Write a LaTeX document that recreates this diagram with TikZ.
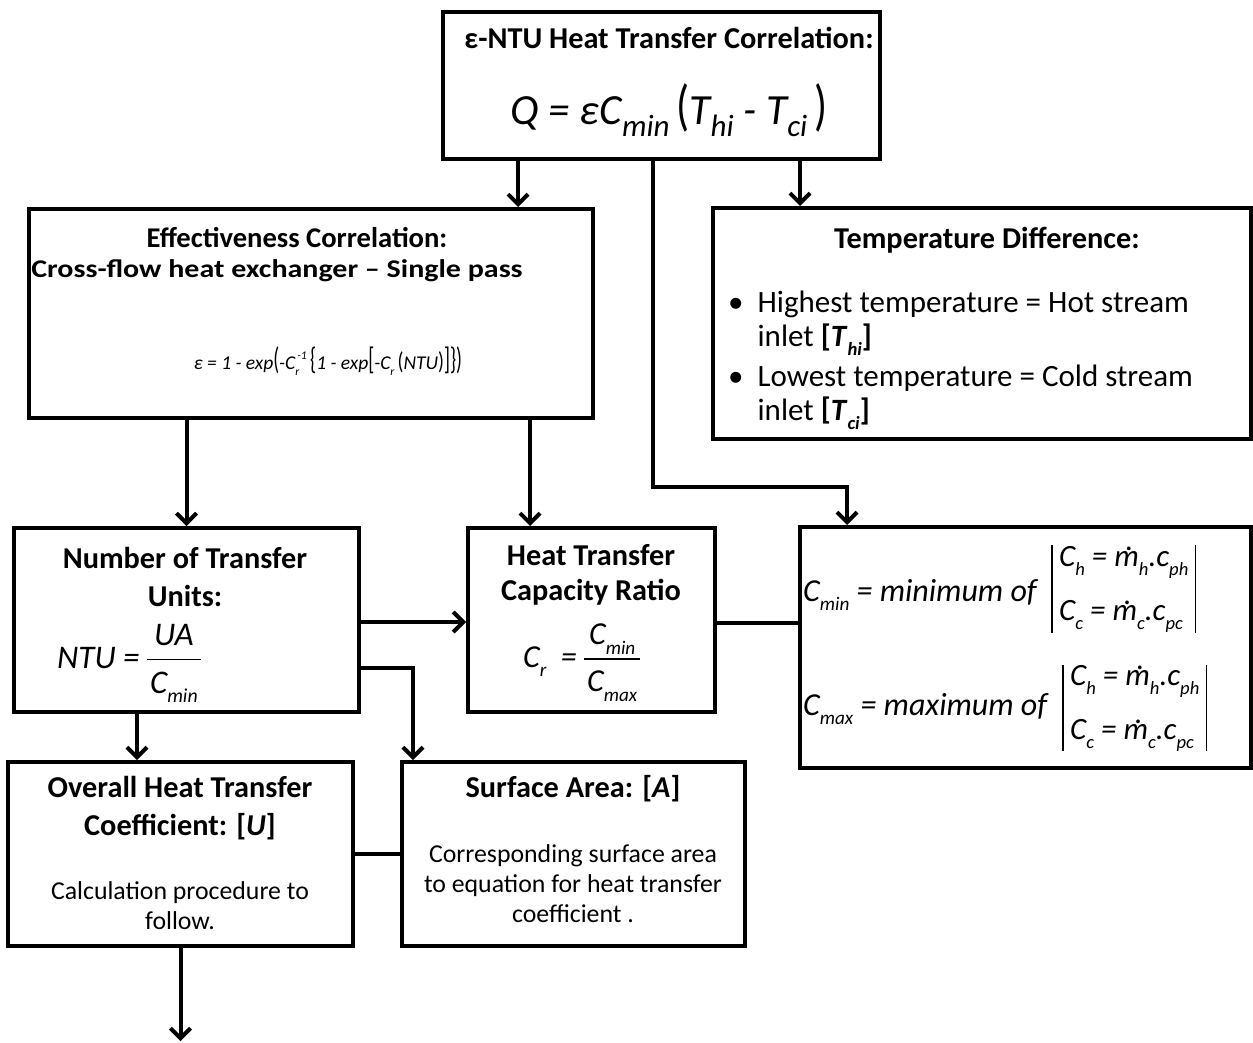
\documentclass[tikz,border=0pt]{standalone}
\usepackage{fontspec}
\setmainfont{Carlito}
\usepackage{graphicx}
\usetikzlibrary{arrows.meta}

% lowered / raised indices built from the current text font
\newcommand\Sb[1]{\raisebox{-0.6ex}{\scalebox{0.6}{#1}}}
\newcommand\Sbl[1]{\raisebox{-0.55ex}{\scalebox{0.72}{#1}}}
\newcommand\Sp[1]{\raisebox{1.05ex}{\scalebox{0.6}{#1}}}
% mass flow rate: m with a dot above
\newcommand\mdot{\rlap{\kern0.36em\raisebox{0.5em}{.}}m}
% stacked fraction
\setlength\arrayrulewidth{1.5pt}
\newcommand\fracbox[2]{\begin{tabular}{@{\hspace{3pt}}c@{\hspace{3pt}}}#1\\[2pt]\hline\rule{0pt}{1.0em}#2\end{tabular}}
% tall delimiters
\newcommand\tall[2]{\textup{\scalebox{1}[#1]{#2}}}

\begin{document}
\begin{tikzpicture}[x=1pt,y=-1pt,
  box/.style={draw, line width=4pt, inner sep=0pt},
  arr/.style={line width=4pt, -{Straight Barb[length=10pt,width=20pt]}},
  link/.style={line width=4pt},
  bar/.style={line width=1.2pt},
  txt/.style={inner sep=0pt, align=center},
  head/.style={txt, font=\fontsize{30.3}{38}\selectfont\bfseries},
  body/.style={txt, font=\fontsize{25.8}{30}\selectfont},
  eqn/.style={inner sep=0pt, font=\fontsize{32}{38}\selectfont\itshape},
  barblk/.style={inner ysep=0pt, inner xsep=7pt, align=left, font=\fontsize{31}{54}\selectfont\itshape}]

\useasboundingbox[fill=white] (0,0) rectangle (1253,1043);

% boxes
\node[box, minimum width=437pt, minimum height=147pt] (top)  at (661.5,85.5) {};
\node[box, minimum width=564pt, minimum height=209pt] (eff)  at (311,313.5) {};
\node[box, minimum width=538pt, minimum height=231pt] (temp) at (982,323.5) {};
\node[box, minimum width=345pt, minimum height=184pt] (ntu)  at (186.5,620) {};
\node[box, minimum width=247pt, minimum height=184pt] (htcr) at (591.5,620) {};
\node[box, minimum width=451pt, minimum height=241pt] (cmin) at (1025.5,647.5) {};
\node[box, minimum width=345pt, minimum height=184pt] (ov)   at (180.5,854) {};
\node[box, minimum width=343pt, minimum height=184pt] (surf) at (573.5,854) {};

% e-NTU correlation
\node[head] (topT) at (669,38) {ε-NTU Heat Transfer Correlation:};
\node[eqn, font=\fontsize{43}{50}\selectfont\itshape] (topE) at (669,110)
  {Q = εC\Sbl{min}\,\tall{1.3}{(}T\Sbl{hi} - T\Sbl{ci}\,\tall{1.3}{)}};

% effectiveness
\node[head, font=\fontsize{28.6}{34}\selectfont\bfseries] (effT) at (297,238) {Effectiveness Correlation:};
\node[txt, font=\fontsize{30}{34}\selectfont\bfseries] (effS) at (277,271)
  {\scalebox{1}[0.85]{Cross-flow heat exchanger -- Single pass}};
\node[eqn, font=\fontsize{19.5}{24}\selectfont\itshape] (effE) at (328,361)
  {ε = 1 - exp\tall{1.6}{(}-C\rlap{\Sb{r}}\Sp{\,-1}\,\tall{1.6}{\{}1 - exp\tall{1.6}{[}-C\Sb{r}\,\tall{1.25}{(}NTU\tall{1.25}{)}\tall{1.6}{]}\tall{1.6}{\}}\tall{1.6}{)}};

% temperature difference
\node[head] (tempT) at (987,240) {Temperature Difference:};
\node[anchor=base west, inner sep=0pt, font=\fontsize{31}{34}\selectfont] (tempL) at (728,312)
  {\begin{tabular}[t]{@{}l@{\hspace{14pt}}l@{}}
   • & Highest temperature = Hot stream\\
     & inlet \textbf{[\textit{T}\Sb{\textit{hi}}]}\\[6pt]
   • & Lowest temperature = Cold stream\\
     & inlet \textbf{[\textit{T}\Sb{\textit{ci}}]}
   \end{tabular}};

% number of transfer units
\node[head] (ntuT) at (185,577) {Number of Transfer\\Units:};
\node[eqn, anchor=base west, font=\fontsize{33}{38}\selectfont\itshape] (ntuE) at (57,668)
  {NTU = \fracbox{UA}{C\Sb{min}}};

% capacity ratio
\node[head, font=\fontsize{30.3}{35}\selectfont\bfseries] (htcrT) at (591,575) {Heat Transfer\\Capacity Ratio};
\node[eqn, anchor=base west] (htcrE) at (523,667) {C\Sb{r} \ = \fracbox{C\Sb{min}}{C\Sb{max}}};

% minimum / maximum capacity rates
\node[eqn, anchor=base west] (cminL) at (803,601) {C\Sb{min} = minimum of};
\node[barblk, anchor=west, minimum height=88pt] (cminB) at (1052,589)
  {C\Sb{h} = \mdot\Sb{h}.c\Sb{ph}\\C\Sb{c} = \mdot\Sb{c}.c\Sb{pc}};
\draw[bar] (cminB.north west) -- (cminB.south west);
\draw[bar] (cminB.north east) -- (cminB.south east);
\node[eqn, anchor=base west] (cmaxL) at (803,715) {C\Sb{max} = maximum of};
\node[barblk, anchor=west, minimum height=86pt] (cmaxB) at (1063,708)
  {C\Sb{h} = \mdot\Sb{h}.c\Sb{ph}\\C\Sb{c} = \mdot\Sb{c}.c\Sb{pc}};
\draw[bar] (cmaxB.north west) -- (cmaxB.south west);
\draw[bar] (cmaxB.north east) -- (cmaxB.south east);

% overall coefficient and surface area
\node[head] (ovT) at (180,808) {Overall Heat Transfer\\Coefficient: [\textit{U}]};
\node[body] (ovB) at (180,906) {Calculation procedure to\\follow.};
\node[head] (surfT) at (573,789) {Surface Area: [\textit{A}]};
\node[body] (surfB) at (573,884) {Corresponding surface area\\to equation for heat transfer\\coefficient .};

% connectors
\draw[arr] ([xshift=-143.5pt]top.south) -- ([xshift=207pt]eff.north);
\draw[arr] ([xshift=138.5pt]top.south) -- ([xshift=-182pt]temp.north);
\draw[arr] ([xshift=-8.5pt]top.south) |- ([xshift=-178.5pt,yshift=38pt]cmin.north) -- ([xshift=-178.5pt]cmin.north);
\draw[arr] (eff.south -| ntu.north) -- (ntu.north);
\draw[arr] ([xshift=219pt]eff.south) -- ([xshift=-61.5pt]htcr.north);
\draw[arr] ([yshift=-2pt]ntu.east) -- ([yshift=-2pt]ntu.east -| htcr.west);
\draw[arr] ([yshift=-48pt]ntu.east) -| ([xshift=-160.5pt]surf.north);
\draw[link] ([yshift=-3pt]htcr.east) -- ([yshift=-3pt]htcr.east -| cmin.west);
\draw[arr] ([xshift=-49.5pt]ntu.south) -- ([xshift=-49.5pt]ntu.south |- ov.north);
\draw[link] (ov.east) -- (ov.east -| surf.west);
\coordinate (out) at (181,1041);
\draw[arr] (ov.south) -- (ov.south |- out);
\end{tikzpicture}
\end{document}
